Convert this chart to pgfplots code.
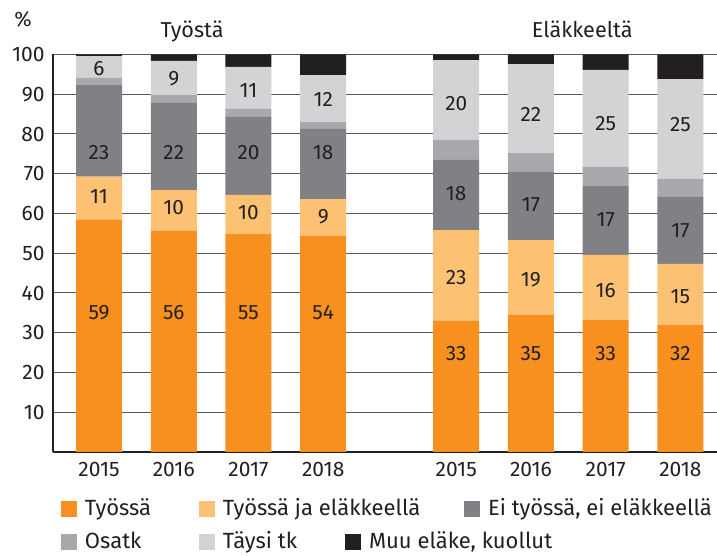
\documentclass[border=0pt]{standalone}
\usepackage{fontspec}
\setmainfont{Fira Sans}
\usepackage{pgfplots}
\pgfplotsset{compat=1.18}
\definecolor{cA}{HTML}{F7901E}
\definecolor{cB}{HTML}{FDC173}
\definecolor{cC}{HTML}{808184}
\definecolor{cD}{HTML}{A7A9AC}
\definecolor{cE}{HTML}{D1D3D4}
\definecolor{cF}{HTML}{231F20}
\definecolor{txt}{HTML}{231F20}
\definecolor{gridc}{HTML}{58595B}
\pgfplotsset{
  base/.style={
    scale only axis, width=332pt, height=198.75pt,
    at={(0,0)}, anchor=south west,
    xmin=-0.616, xmax=8.27, ymin=0, ymax=100,
  },
}
\newcommand{\lfont}{\fontsize{11}{13}\selectfont}
\begin{document}
\begin{tikzpicture}
\useasboundingbox (-26.5pt,-52pt) rectangle (332pt,226pt);
\begin{axis}[base, name=ax,
  ybar stacked, bar width=23pt,
  axis x line*=bottom, axis y line*=left,
  axis line style={line width=0.75pt, txt, -},
  ytick={10,20,...,100},
  xtick={0,1,2,3,4.78,5.78,6.78,7.78},
  xticklabels={2015,2016,2017,2018,2015,2016,2017,2018},
  major tick length=0pt,
  ymajorgrids, grid style={gridc, line width=0.5pt},
  /pgf/number format/assume math mode=true,
  tick label style={font=\fontsize{10.5}{12}\selectfont, text=txt, inner sep=0pt},
  xticklabel style={anchor=north, yshift=-4.9pt},
  yticklabel style={anchor=east, xshift=-4pt},
  clip=false,
  legend columns=4,
  legend cell align=left,
  legend image code/.code={\fill[#1] (0pt,-4.8pt) rectangle (8pt,3.2pt); \path (12pt,0pt);},
  legend style={draw=none, fill=none, inner sep=0pt, outer sep=0pt,
    font=\lfont, text=txt, row sep=5.1pt, column sep=0pt,
    nodes={inner sep=0pt, outer sep=0pt},
    at={(axis description cs:0,0)}, anchor=north west, xshift=4pt, yshift=-21.9pt},
]
\addplot[fill=cA, draw=none] coordinates {(0,58.4) (1,55.6) (2,54.8) (3,54.3) (4.78,33.0) (5.78,34.5) (6.78,33.2) (7.78,31.9)};
\addlegendentry{\makebox[57pt][l]{\vphantom{Äy}Työssä}}
\addplot[fill=cB, draw=none] coordinates {(0,10.9) (1,10.3) (2,9.9) (3,9.3) (4.78,22.8) (5.78,18.8) (6.78,16.4) (7.78,15.4)};
\addlegendentry{\makebox[61pt][l]{\vphantom{Äy}Työssä ja eläkkeellä}}
\addlegendimage{empty legend}
\addlegendentry{\makebox[47.5pt][l]{\vphantom{Äy}}}
\addplot[fill=cC, draw=none] coordinates {(0,23.0) (1,21.9) (2,19.6) (3,17.7) (4.78,17.7) (5.78,17.2) (6.78,17.3) (7.78,16.9)};
\addlegendentry{\vphantom{Äy}Ei työssä, ei eläkkeellä}
\addplot[fill=cD, draw=none] coordinates {(0,1.8) (1,2.0) (2,2.0) (3,1.7) (4.78,5.0) (5.78,4.7) (6.78,4.8) (7.78,4.5)};
\addlegendentry{\makebox[57pt][l]{\vphantom{Äy}Osatk}}
\addplot[fill=cE, draw=none] coordinates {(0,5.5) (1,8.6) (2,10.6) (3,11.8) (4.78,20.1) (5.78,22.4) (6.78,24.4) (7.78,25.1)};
\addlegendentry{\makebox[61pt][l]{\vphantom{Äy}Täysi tk}}
\addplot[fill=cF, draw=none] coordinates {(0,0.4) (1,1.6) (2,3.1) (3,5.2) (4.78,1.4) (5.78,2.4) (6.78,3.9) (7.78,6.2)};
\addlegendentry{\makebox[47.5pt][l]{\vphantom{Äy}Muu eläke, kuollut}}
\node[font=\fontsize{10.8}{13}\selectfont, text=txt, anchor=base] at (axis cs:1.245,104.4) {Työstä};
\node[font=\fontsize{10.8}{13}\selectfont, text=txt, anchor=base] at (axis cs:6.466,104.4) {Eläkkeeltä};
\node[font=\fontsize{10.5}{12}\selectfont, text=txt, anchor=center, inner sep=0pt] at (axis cs:-1.017,108.8) {\%};
\end{axis}
\begin{axis}[base, hide axis, clip=false]
\addplot[draw=none, mark=*, mark size=0pt, mark options={draw=none, fill=none},
  nodes near coords, point meta=explicit symbolic,
  nodes near coords align={center},
  every node near coord/.append style={font=\fontsize{10.4}{12}\selectfont, text=txt, anchor=center, inner sep=0pt}]
coordinates {
(0,35)[59] (1,35)[56] (2,35)[55] (3,35)[54]
(0,64.2)[11] (1,61.6)[10] (2,60.3)[10] (3,59.2)[9]
(0,75.4)[23] (1,75.4)[22] (2,75.4)[20] (3,75.4)[18]
(0,96.5)[6] (1,94.0)[9] (2,90.9)[11] (3,88.8)[12]
(4.78,24.8)[33] (5.78,24.8)[35] (6.78,24.8)[33] (7.78,24.8)[32]
(4.78,43.9)[23] (5.78,43.4)[19] (6.78,40.6)[16] (7.78,39.2)[15]
(4.78,64.9)[18] (5.78,62.3)[17] (6.78,58.4)[17] (7.78,55.6)[17]
(4.78,87.7)[20] (5.78,85.0)[22] (6.78,82.7)[25] (7.78,82.3)[25]
};
\end{axis}
\end{tikzpicture}
\end{document}
